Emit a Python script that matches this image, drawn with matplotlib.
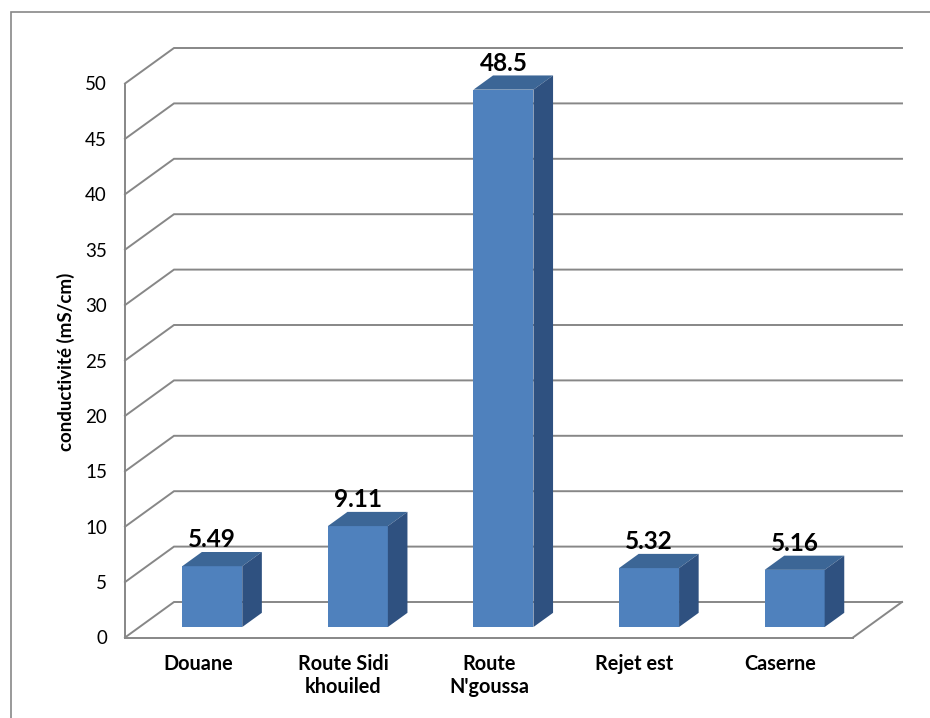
import matplotlib
matplotlib.use("Agg")
import matplotlib.pyplot as plt
from matplotlib.patches import Polygon, Rectangle

# data
sites = ["Douane", "Route Sidi\nkhouiled", "Route\nN'goussa", "Rejet est", "Caserne"]
conductivity = [5.49, 9.11, 48.5, 5.32, 5.16]
value_labels = ["5.49", "9.11", "48.5", "5.32", "5.16"]
yticks = list(range(0, 55, 5))

plt.rcParams['font.family'] = ['Lato', 'DejaVu Sans']

GRID = '#878787'
FRONT = '#4F81BD'
TOP = '#3C6696'
SIDE = '#2F5180'

fig = plt.figure(figsize=(9.3, 7.18), dpi=100)
# front plane of the 3d box
ax = fig.add_axes([125 / 930, 1 - 637.5 / 718, 728 / 930, 554 / 718])
n = len(sites)
ax.set_xlim(0, n)
ax.set_ylim(0, yticks[-1])

# pixel -> data scale, depth of the box
px_x = n / 728
px_y = yticks[-1] / 554
DX, DY = 49 * px_x, 35.5 * px_y

# walls + gridlines
for v in yticks:
    ax.plot([0, DX, n + DX], [v, v + DY, v + DY], color=GRID, lw=1.4,
            clip_on=False, zorder=1, solid_joinstyle='miter')
ax.plot([n, n + DX], [0, DY], color=GRID, lw=1.4, clip_on=False, zorder=1)

for s in ['top', 'right']:
    ax.spines[s].set_visible(False)
for s in ['left', 'bottom']:
    ax.spines[s].set_color(GRID)
    ax.spines[s].set_linewidth(1.4)

# bars
W = 60 * px_x       # front face width
F0 = 0.295          # where the bar starts, fraction of box depth
BD = 0.40           # bar depth, fraction of box depth
ddx, ddy = BD * DX, BD * DY
y0 = F0 * DY
centers = [i + 0.5 + F0 * DX for i in range(n)]
ax.bar(centers, conductivity, width=W, bottom=y0, color=FRONT, zorder=3,
       clip_on=False)
for xc, v, lbl in zip(centers, conductivity, value_labels):
    xl, xr, yt = xc - W / 2, xc + W / 2, y0 + v
    ax.add_patch(Polygon([(xl, yt), (xr, yt), (xr + ddx, yt + ddy), (xl + ddx, yt + ddy)],
                         closed=True, fc=TOP, ec='none', zorder=3, clip_on=False))
    ax.add_patch(Polygon([(xr, y0), (xr + ddx, y0 + ddy), (xr + ddx, yt + ddy), (xr, yt)],
                         closed=True, fc=SIDE, ec='none', zorder=3, clip_on=False))
    ax.annotate(lbl, (xc, yt), xytext=(0, 19), textcoords='offset pixels',
                ha='center', va='baseline', fontsize=17.5, fontweight='bold',
                zorder=5, annotation_clip=False)

# axes text
ax.set_yticks(yticks)
ax.set_yticklabels([str(t) for t in yticks], fontsize=13.5)
ax.tick_params(axis='y', length=0, pad=13)
ax.set_xticks([i + 0.5 for i in range(n)])
ax.set_xticklabels(sites, fontsize=14.3, fontweight='bold', linespacing=1.15)
ax.tick_params(axis='x', length=0, pad=12)
ax.patch.set_visible(False)

fig.text(66 / 930, 1 - 362 / 718, 'conductivité (mS/cm)', rotation=90,
         ha='center', va='center', fontsize=13.5, fontweight='bold')

# chart border
fig.patches.append(Rectangle((11 / 930, -0.05), 1.1, 1 - 12 / 718 + 0.05,
                             transform=fig.transFigure, fill=False,
                             ec=GRID, lw=1.2))

fig.savefig('out.png', dpi=100)
